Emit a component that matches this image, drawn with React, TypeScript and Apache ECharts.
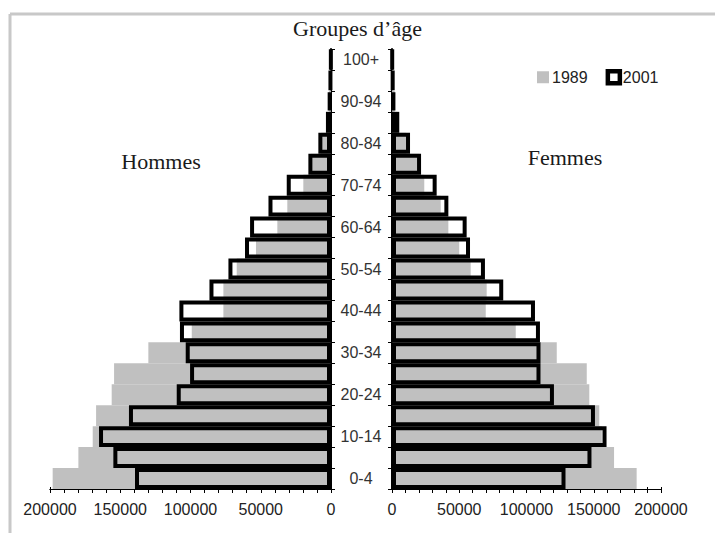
import React, { useEffect, useRef } from "react";
import * as echarts from "echarts";

const ageGroups = [
  "0-4", "5-9", "10-14", "15-19", "20-24", "25-29", "30-34", "35-39", "40-44", "45-49",
  "50-54", "55-59", "60-64", "65-69", "70-74", "75-79", "80-84", "85-89", "90-94", "95-99", "100+",
];

const men1989 = [
  198100, 179800, 169600, 167200, 156100, 154400, 130000, 99100, 76600, 76600,
  67100, 53400, 38200, 31100, 19700, 14400, 7100, 3500, 1500, 500, 100,
];
const men2001 = [
  139500, 154900, 165100, 143800, 109800, 100300, 103400, 107500, 107900, 86500,
  73000, 61200, 57600, 44500, 31500, 16100, 9000, 3600, 1900, 800, 200,
];
const women1989 = [
  181900, 165100, 156000, 154100, 146700, 144800, 122500, 92000, 69700, 70400,
  58500, 50000, 41900, 36200, 24000, 20300, 10500, 4000, 2000, 800, 200,
];
const women2001 = [
  129000, 148300, 159500, 150900, 120400, 110400, 110400, 110000, 106300, 82700,
  69100, 58000, 55500, 41900, 33200, 21600, 13400, 5400, 2100, 1000, 300,
];

const axisTicks = [0, 50000, 100000, 150000, 200000];

const SANS = "Liberation Sans";
const SERIF = "Liberation Serif";
const GRAY = "#c0c0c0";

export default function App() {
  const ref = useRef<HTMLDivElement>(null);

  useEffect(() => {
    if (!ref.current) return;
    const chart = echarts.init(ref.current, null, { renderer: "svg" });

    const valueAxis = (gridIndex: number, inverse: boolean, inside: boolean) => ({
      gridIndex,
      type: "value",
      position: "bottom",
      inverse,
      min: 0,
      max: 200000,
      interval: 10000,
      axisLine: { show: true, lineStyle: { color: "#000", width: 1 } },
      axisTick: { show: true, inside, length: inside ? 2 : 4, lineStyle: { color: "#000", width: 1 } },
      axisLabel: {
        show: !inside,
        margin: 12,
        fontFamily: SANS,
        fontSize: 16,
        color: "#222",
        formatter: (v: number) => (axisTicks.includes(v) ? String(v) : ""),
      },
      splitLine: { show: false },
    });

    const catAxis = (gridIndex: number, position: string, showLabel: boolean) => ({
      gridIndex,
      type: "category",
      data: ageGroups,
      position,
      boundaryGap: true,
      axisLine: { show: true, lineStyle: { color: "#000", width: 2 } },
      axisTick: { show: true, interval: 0, length: 4, lineStyle: { color: "#000", width: 1 } },
      axisLabel: {
        show: showLabel,
        interval: 1,
        align: "center",
        margin: 30,
        fontFamily: SANS,
        fontSize: 16,
        color: "#333",
      },
      splitLine: { show: false },
    });

    const grayBar = (name: string, data: number[], xi: number, yi: number) => ({
      name,
      type: "bar",
      xAxisIndex: xi,
      yAxisIndex: yi,
      data,
      barGap: "-100%",
      barCategoryGap: "0%",
      itemStyle: { color: GRAY, borderWidth: 0 },
    });
    const outlineBar = (name: string, data: number[], xi: number, yi: number) => ({
      name,
      type: "bar",
      xAxisIndex: xi,
      yAxisIndex: yi,
      data,
      barGap: "-100%",
      barCategoryGap: "0%",
      itemStyle: { color: "rgba(0,0,0,0)", borderColor: "#000", borderWidth: 4 },
    });

    chart.setOption({
      animation: false,
      backgroundColor: "#fff",
      title: {
        text: "Groupes d’âge",
        left: "center",
        top: 12,
        textStyle: { fontFamily: SERIF, fontSize: 22, fontWeight: "normal", color: "#1a1a1a" },
      },
      legend: {
        data: [
          { name: "1989", itemStyle: { color: GRAY, borderWidth: 0 } },
          { name: "2001", itemStyle: { color: "#fff", borderColor: "#000", borderWidth: 4.5 } },
        ],
        left: 532,
        top: 64,
        icon: "rect",
        itemWidth: 12,
        itemHeight: 12,
        itemGap: 18,
        selectedMode: false,
        textStyle: { fontFamily: SANS, fontSize: 16, color: "#222", padding: [0, 0, 0, -2] },
      },
      grid: [
        { left: 50, top: 49, width: 281, height: 440, containLabel: false },
        { left: 392, top: 49, width: 269, height: 440, containLabel: false },
      ],
      xAxis: [
        valueAxis(0, true, false),
        valueAxis(0, true, true),
        valueAxis(1, false, false),
        valueAxis(1, false, true),
      ],
      yAxis: [catAxis(0, "right", true), catAxis(1, "left", false)],
      series: [
        grayBar("1989", men1989, 0, 0),
        outlineBar("2001", men2001, 0, 0),
        grayBar("1989", women1989, 2, 1),
        outlineBar("2001", women2001, 2, 1),
      ],
      graphic: [
        {
          type: "line",
          shape: { x1: 10, y1: 14, x2: 715, y2: 14 },
          style: { stroke: "#c8c8c8", lineWidth: 3 },
        },
        {
          type: "line",
          shape: { x1: 10, y1: 14, x2: 10, y2: 533 },
          style: { stroke: "#c8c8c8", lineWidth: 3 },
        },
        {
          type: "text",
          x: 161,
          y: 161,
          style: {
            text: "Hommes",
            fontFamily: SERIF,
            fontSize: 22,
            fill: "#1a1a1a",
            align: "center",
            verticalAlign: "middle",
          },
        },
        {
          type: "text",
          x: 565,
          y: 157,
          style: {
            text: "Femmes",
            fontFamily: SERIF,
            fontSize: 22,
            fill: "#1a1a1a",
            align: "center",
            verticalAlign: "middle",
          },
        },
      ],
    });

    return () => chart.dispose();
  }, []);

  return (
    <div
      ref={ref}
      style={{ position: "fixed", left: 0, top: 0, width: 715, height: 533 }}
    />
  );
}
